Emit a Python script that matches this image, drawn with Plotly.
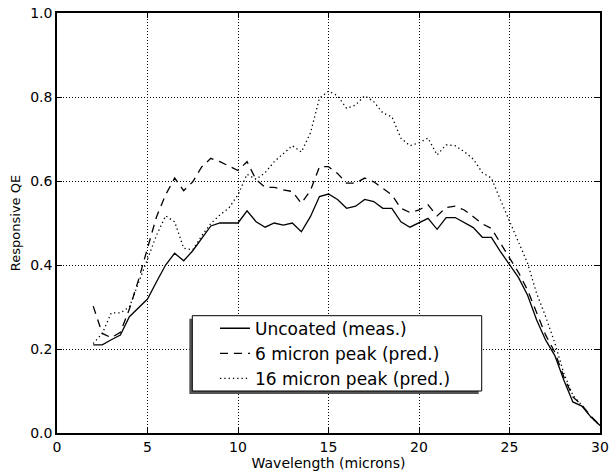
import plotly.graph_objects as go

wavelength = [2 + 0.5 * i for i in range(57)]

uncoated = [0.21, 0.21, 0.222, 0.233, 0.277, 0.299, 0.319, 0.36, 0.40, 0.428,
            0.41, 0.434, 0.463, 0.493, 0.50, 0.50, 0.50, 0.529, 0.503, 0.49,
            0.50, 0.495, 0.50, 0.479, 0.515, 0.563, 0.569, 0.556, 0.535, 0.54,
            0.556, 0.551, 0.535, 0.535, 0.503, 0.49, 0.50, 0.511, 0.485, 0.513,
            0.513, 0.50, 0.489, 0.466, 0.466, 0.432, 0.40, 0.37, 0.328, 0.269,
            0.221, 0.185, 0.126, 0.074, 0.064, 0.038, 0.018]

peak6 = [0.302, 0.237, 0.227, 0.24, 0.295, 0.364, 0.44, 0.515, 0.567, 0.607,
         0.577, 0.598, 0.634, 0.654, 0.646, 0.636, 0.625, 0.646, 0.603, 0.585,
         0.585, 0.579, 0.575, 0.547, 0.577, 0.634, 0.634, 0.618, 0.595, 0.595,
         0.607, 0.598, 0.583, 0.567, 0.535, 0.525, 0.531, 0.543, 0.517, 0.537,
         0.54, 0.531, 0.515, 0.498, 0.487, 0.452, 0.416, 0.382, 0.34, 0.285,
         0.233, 0.193, 0.134, 0.086, 0.066, 0.04, 0.018]

peak16 = [0.213, 0.237, 0.286, 0.286, 0.30, 0.356, 0.416, 0.471, 0.517, 0.503,
          0.44, 0.436, 0.47, 0.499, 0.519, 0.536, 0.567, 0.616, 0.604, 0.62,
          0.646, 0.666, 0.684, 0.669, 0.714, 0.797, 0.814, 0.803, 0.773, 0.781,
          0.803, 0.789, 0.762, 0.753, 0.702, 0.684, 0.691, 0.702, 0.662, 0.686,
          0.684, 0.67, 0.652, 0.62, 0.607, 0.555, 0.505, 0.452, 0.404, 0.332,
          0.277, 0.215, 0.142, 0.09, 0.066, 0.038, 0.018]

names = ["Uncoated (meas.)", "6 micron peak (pred.)", "16 micron peak (pred.)"]
dashes = ["solid", "8px,6px", "1.3px,3px"]

W, H = 611, 472
L, R, T, B = 57, 11, 13, 39
pw, ph = W - L - R, H - T - B

def px2x(p):
    return (p - L) / pw

def px2y(p):
    return (H - B - p) / ph

fig = go.Figure()
for y, n, d in zip([uncoated, peak6, peak16], names, dashes):
    fig.add_trace(go.Scatter(x=wavelength, y=y, mode="lines", name=n,
                             line=dict(color="black", width=1.3, dash=d)))

# legend shadow and frame
fig.add_shape(type="rect", xref="paper", yref="paper",
              x0=px2x(189.3), x1=px2x(478.7), y0=px2y(394), y1=px2y(318.7),
              fillcolor="#555555", line=dict(width=0), layer="above")
fig.add_shape(type="rect", xref="paper", yref="paper",
              x0=px2x(192.3), x1=px2x(481.7), y0=px2y(391), y1=px2y(315.7),
              fillcolor="white", line=dict(width=1, color="black"), layer="above")

font = "DejaVu Sans"
axis_common = dict(showline=True, linecolor="black", linewidth=1.5, mirror="allticks",
                   ticks="inside", ticklen=5, tickcolor="black", tickwidth=1,
                   showgrid=True, gridcolor="black", gridwidth=1, griddash="1px,2px",
                   zeroline=False, tickfont=dict(family=font, size=14, color="black"))

fig.update_xaxes(range=[0, 30], dtick=5, tick0=0,
                 title=dict(text="Wavelength (microns)", font=dict(family=font, size=14, color="black"), standoff=0),
                 **axis_common)
fig.update_yaxes(range=[0, 1], dtick=0.2, tick0=0, tickformat=".1f",
                 title=dict(text="Responsive QE", font=dict(family=font, size=13, color="black"), standoff=7),
                 **axis_common)

fig.update_layout(
    width=W, height=H,
    margin=dict(l=L, r=R, t=T, b=B, autoexpand=False),
    paper_bgcolor="white", plot_bgcolor="white",
    font=dict(family=font, color="black"),
    legend=dict(x=px2x(215), y=px2y(310.7), xanchor="left", yanchor="top",
                bgcolor="rgba(0,0,0,0)", borderwidth=0,
                font=dict(family=font, size=17, color="black")),
)

fig.write_html("out.html")
